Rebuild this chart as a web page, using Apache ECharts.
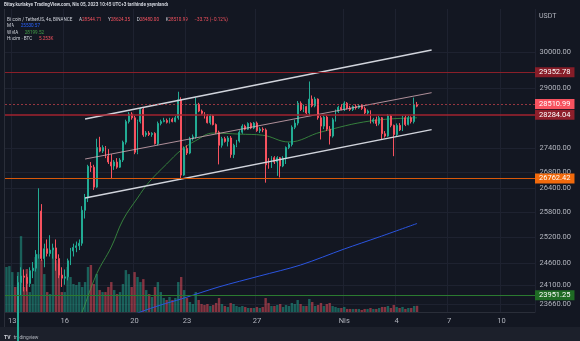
<!DOCTYPE html>
<html><head><meta charset="utf-8">
<script src="https://cdn.jsdelivr.net/npm/echarts@6/dist/echarts.min.js"></script>
<style>html,body{margin:0;padding:0;background:#131722;}#c{width:580px;height:341px;}</style>
</head><body><div id="c"></div>
<script>
// ---- data (4h candles, BTC/USDT, first candle = 2023-03-12 16:00 UTC) ----
const opens = [20800,20900,22100,22400,22250,24150,24300,24270,24130,24420,24480,24800,25830,24700,24930,24820,24900,24950,24700,24320,
24250,24280,24650,24880,24960,25000,25060,25850,26150,26940,26920,26420,27420,27330,27420,27200,27050,26950,27050,26920,
27100,27560,28100,28300,28200,27300,28100,28420,27750,27800,27760,27790,27520,28050,28100,28130,28080,28160,28100,28200,
28680,26720,27400,27280,27650,27700,28560,28380,28320,28230,28070,28250,28020,27820,27480,27650,27580,27670,27240,27480,
27590,27820,27980,27900,28050,27930,28060,27860,27900,27880,26980,26950,27160,27050,27160,26950,27150,27420,27500,27950,
28060,28590,28420,28500,28330,28700,28520,28700,28200,27980,28220,27900,27720,28150,28370,28480,28420,28590,28460,28420,
28500,28470,28520,28450,28330,28380,28100,28150,28050,28200,27780,27720,28250,28000,27760,28000,27880,28200,28020,28200,
28100,28544.71];
const highs = [21000,22200,22600,22600,24300,24500,24450,24350,24500,24620,24900,26390,26000,25050,25150,25250,25050,25150,24800,24500,
24450,24700,24950,25050,25100,25150,25950,26250,26980,27050,26980,27650,27700,27480,27460,27380,27250,27100,27150,27150,
27600,28150,28350,28350,28250,28150,28470,28460,27850,27850,27820,27820,28100,28150,28200,28180,28200,28200,28250,28900,
28750,27450,27480,27700,27760,28740,28600,28420,28350,28300,28300,28280,28050,27860,27700,27700,27720,27720,27520,27620,
27870,28030,28020,28080,28080,28090,28100,27950,27950,27920,27150,27200,27200,27200,27180,27200,27450,27550,28000,28150,
28650,28640,28550,28520,29180,28800,28760,28720,28250,28260,28260,27980,28200,28420,28520,28560,28640,28620,28520,28530,
28560,28560,28560,28500,28420,28400,28200,28230,28250,28220,27850,28300,28280,28020,28050,28060,28250,28260,28250,28240,
28740,28624.35];
const lows = [20600,20850,21900,22000,22200,23850,23950,23950,24050,24250,24400,24700,24650,24500,24750,24750,24700,24420,24250,24050,
24100,24200,24550,24750,24850,24900,25000,25650,26050,26800,26350,26400,27300,27280,27150,27000,26620,26850,26880,26900,
27050,27500,28050,28150,27250,27250,28050,27700,27700,27720,27700,27500,27480,28000,28080,28050,28050,28080,28080,28150,
26600,26700,27230,27250,27600,27650,28350,28280,28180,28050,28020,28000,27780,26990,27420,27550,27450,27160,27150,27430,
27550,27780,27870,27880,27900,27900,27830,27800,27820,26530,26880,26900,27000,26700,26660,26920,27000,27380,27450,27900,
28000,28380,28350,28300,28250,28480,28480,28150,27630,27900,27850,27500,27680,28100,28330,28400,28380,28420,28380,28380,
28420,28440,28410,28300,28280,28050,28050,27980,28000,27630,27680,27700,27950,27200,27720,27850,27850,27980,28000,28050,
28050,28480];
const closes = [20900,22100,22400,22250,24150,24300,24270,24130,24420,24480,24800,25830,24700,24930,24820,24900,24950,24700,24320,24250,
24280,24650,24880,24960,25000,25060,25850,26150,26940,26920,26420,27420,27330,27420,27200,27050,26950,27050,26920,27100,
27560,28100,28300,28200,27300,28100,28420,27750,27800,27760,27790,27520,28050,28100,28130,28080,28160,28100,28200,28680,
26720,27400,27280,27650,27700,28560,28380,28320,28230,28070,28250,28020,27820,27480,27650,27580,27670,27240,27480,27590,
27820,27980,27900,28050,27930,28060,27860,27900,27880,26980,26950,27160,27050,27160,26950,27150,27420,27500,27950,28060,
28590,28420,28500,28330,28700,28520,28700,28200,27980,28220,27900,27720,28150,28370,28480,28420,28590,28460,28420,28500,
28470,28520,28450,28330,28380,28100,28150,28050,28200,27780,27720,28250,28000,27760,28000,27880,28200,28020,28200,28100,
28544.71,28510.99];
// volume, thousand BTC
const volumes = [38.3,39.1,34.0,21.3,34.0,64.6,21.3,36.6,17.0,23.8,46.8,49.3,44.2,32.3,17.0,15.3,52.7,44.2,40.8,17.0,
17.0,38.3,29.8,23.8,23.0,25.5,21.3,25.5,38.3,40.0,23.8,32.3,18.7,17.0,17.0,21.3,25.5,18.7,15.3,17.0,
23.8,35.7,32.3,21.3,34.0,29.8,25.5,28.0,18.7,15.3,12.8,21.3,25.5,17.0,11.9,10.2,12.8,10.2,11.9,25.5,
29.8,18.7,11.9,8.5,6.8,17.0,10.2,6.8,6.0,6.8,5.1,6.0,7.7,11.9,6.8,5.1,4.3,7.7,6.8,5.1,
4.3,5.1,4.3,3.4,3.4,3.4,4.3,3.4,4.3,11.9,7.7,5.1,5.1,6.0,6.8,4.3,6.0,5.1,7.7,6.8,
10.2,6.8,5.1,5.1,11.1,8.5,5.1,6.0,7.7,5.1,6.8,7.7,5.1,4.3,3.4,3.4,4.3,2.6,2.6,2.6,
2.6,2.6,1.7,2.6,2.6,3.4,2.6,2.6,3.4,4.3,4.3,5.1,3.4,6.0,4.3,3.4,4.3,2.6,3.4,3.4,
5.1,5.253];
// indicator readings: [candle index, price]
const maPoints = [[40,23330],[46,23490],[53,23646],[60,23780],[73,24052],[87,24301],[101,24552],[116,24925],[128,25209],[141,25530.57]];
const wmaPoints = [[24,23200],[26,23490],[31,24350],[36,24972],[40,25614],[45,26150],[49,26547],[55,27000],[60,27357],[65,27600],[71,27798],[80,27770],[88,27742],[97,27565],[108,27825],[125,28117],[141,28199.52]];
// channel drawing (anchor points)
const channelUpper = [[27,28168],[146,30056]];
const channelMid = [[27,27127],[146,28875]];
const channelLower = [[27,26150],[146,27888]];
// horizontal price levels
const priceLevels = [29352.78, 28510.99, 28284.04, 26762.42, 23951.25];
// axis ticks
const yTickLabels = [30000, 29000, 27400, 26800, 26400, 25800, 25200, 24600, 24100, 23660];
const xTickCats = ['03-13 00','03-16 00','03-20 00','03-23 00','03-27 00','04-01 00','04-04 00','04-07 00','04-10 00'];
const xTickLabels = ['13','16','20','23','27','Nis','4','7','10'];

// ---- styles ----
const levelLine = ['#8a1f29','rgba(220,70,82,0.65)','#a3232f','#d8580a','#2b7a30'];
const levelBox  = ['#871d28','#f7525f','#8f1f2b','#f26a0c','#1f6b24'];
const levelType = ['solid',[2,2],'solid','solid','solid'];
const levelW    = [1,1,1.5,1,1];

const L = Math.log;
const pad = n => String(n).padStart(2,'0');
const start = Date.UTC(2023,2,12,16);
const categories = [];
for (let k = 0; k < 182; k++) {
  const d = new Date(start + k*4*3600e3);
  categories.push(pad(d.getUTCMonth()+1)+'-'+pad(d.getUTCDate())+' '+pad(d.getUTCHours()));
}
const yMin = 23490, yMax = 31240;
const UP = '#22ab94', DOWN = '#f7525f';

const candleData = opens.map((o,i)=>[L(o), L(closes[i]), L(lows[i]), L(highs[i])]);
const volData = volumes.map((v,i)=>({value:v, itemStyle:{color: closes[i] >= opens[i] ? 'rgba(34,171,148,0.5)' : 'rgba(247,82,95,0.5)'}}));
const tr = pts => pts.map(p=>[p[0], L(p[1])]);
const isTick = (idx, val) => xTickCats.indexOf(val !== undefined ? val : categories[idx]) >= 0;

const FONT = 'Roboto, "Noto Sans", sans-serif';
const chart = echarts.init(document.getElementById('c'), null, {renderer:'canvas'});
chart.setOption({
  animation: false,
  backgroundColor: '#131722',
  textStyle: {fontFamily: FONT},
  grid: {left:5, right:45, top:9, bottom:29, containLabel:false},
  xAxis: {
    type:'category', data: categories, boundaryGap: true,
    axisLine:{show:true, lineStyle:{color:'#2a2e39'}},
    axisTick:{show:false},
    axisLabel:{interval: (i,v)=>isTick(i,v), formatter: v => xTickLabels[xTickCats.indexOf(v)], color:'#b2b5be', fontSize:7.5, margin:5, fontFamily:FONT},
    splitLine:{show:true, interval:(i,v)=>isTick(i,v), lineStyle:{color:'#1e2230', width:1}}
  },
  yAxis: [{
    type:'value', position:'right', min:L(yMin), max:L(yMax), scale:true,
    axisLine:{show:false},
    axisTick:{show:false, customValues: yTickLabels.map(v=>L(v))},
    axisLabel:{customValues: yTickLabels.map(v=>L(v)), formatter: v => Math.exp(v).toFixed(2), color:'#b2b5be', fontSize:7.5, align:'right', margin:36, fontFamily:FONT},
    splitLine:{show:true, lineStyle:{color:'#1e2230', width:1}}
  },{
    type:'value', min:0, max:258, show:false, splitLine:{show:false}
  }],
  series: [
    {type:'bar', name:'vol', xAxisIndex:0, yAxisIndex:1, data: volData, barWidth:2.4, z:1, silent:true},
    {type:'line', name:'MA', data: tr(maPoints), symbol:'none', smooth:0.3, lineStyle:{color:'#2b55e0', width:1}, z:2, silent:true},
    {type:'line', name:'WMA', data: tr(wmaPoints), symbol:'none', smooth:0.4, lineStyle:{color:'#3f9a44', width:0.8}, z:2, silent:true},
    {type:'line', name:'up', data: tr(channelUpper), symbol:'none', lineStyle:{color:'#d1d4dc', width:1.5}, z:4, silent:true},
    {type:'line', name:'mid', data: tr(channelMid), symbol:'none', lineStyle:{color:'rgba(214,172,182,0.8)', width:1}, z:4, silent:true},
    {type:'line', name:'low', data: tr(channelLower), symbol:'none', lineStyle:{color:'#d1d4dc', width:1.5}, z:4, silent:true},
    {type:'candlestick', name:'BTC', data: candleData, barWidth:1.4, z:3, silent:true,
      itemStyle:{color:UP, color0:DOWN, borderColor:UP, borderColor0:DOWN, borderWidth:1},
      markLine:{
        symbol:['none','none'], silent:true, animation:false,
        label:{show:true, position:'end', formatter:'{b}', color:'#ffffff', fontSize:7.5, padding:[1,4,1,4], distance:0, fontFamily:FONT},
        data: priceLevels.map((v,i)=>({yAxis:L(v), name:v.toFixed(2),
          lineStyle:{color:levelLine[i], width:levelW[i], type:levelType[i]},
          label:{backgroundColor:levelBox[i]}}))
      }
    }
  ],
  graphic: [
    {type:'rect', shape:{x:0, y:327, width:580, height:14}, style:{fill:'#1c202b'}, silent:true},
    {type:'line', shape:{x1:4.5, y1:9, x2:4.5, y2:327}, style:{stroke:'#2a2e39', lineWidth:1}, silent:true},
    {type:'text', left:4, top:2, style:{text:'Bitay.kurlakye TradingView.com, Nis 05, 2023 10:45 UTC+3 tarihinde yayınlandı', fill:'#d1d4dc', font:'bold 4.6px '+FONT}},
    {type:'text', left:7, top:13.5, style:{
      text:'{w|Bitcoin / TetherUS, 4s, BINANCE}  {g|A}{r|28544.71}  {g|Y}{r|28624.35}  {g|D}{r|28480.00}  {g|K}{r|28510.99}  {r|−33.73 (−0.12%)}',
      rich:{w:{fill:'#d1d4dc', font:'4.6px '+FONT}, g:{fill:'#d1d4dc', font:'4.6px '+FONT}, r:{fill:'#f7525f', font:'4.6px '+FONT}}}},
    {type:'text', left:7, top:20.2, style:{text:'{g|MA}  {b|25530.57}', rich:{g:{fill:'#d1d4dc', font:'4.6px '+FONT}, b:{fill:'#2962ff', font:'4.6px '+FONT}}}},
    {type:'text', left:7, top:26.8, style:{text:'{g|WMA}  {b|28199.52}', rich:{g:{fill:'#d1d4dc', font:'4.6px '+FONT}, b:{fill:'#43a047', font:'4.6px '+FONT}}}},
    {type:'text', left:7, top:32.8, style:{text:'{g|Hacim · BTC}  {b|5.253K}', rich:{g:{fill:'#d1d4dc', font:'4.6px '+FONT}, b:{fill:'#f7525f', font:'4.6px '+FONT}}}},
    {type:'text', left:539, top:13, style:{text:'USDT', fill:'#b2b5be', font:'7px '+FONT}},
    {type:'text', left:4, top:331.5, style:{text:'{l|TV} {t|tradingview}', rich:{l:{fill:'#d1d4dc', font:'bold 5px '+FONT}, t:{fill:'#b2b5be', font:'4.8px '+FONT}}}}
  ]
});
</script></body></html>
